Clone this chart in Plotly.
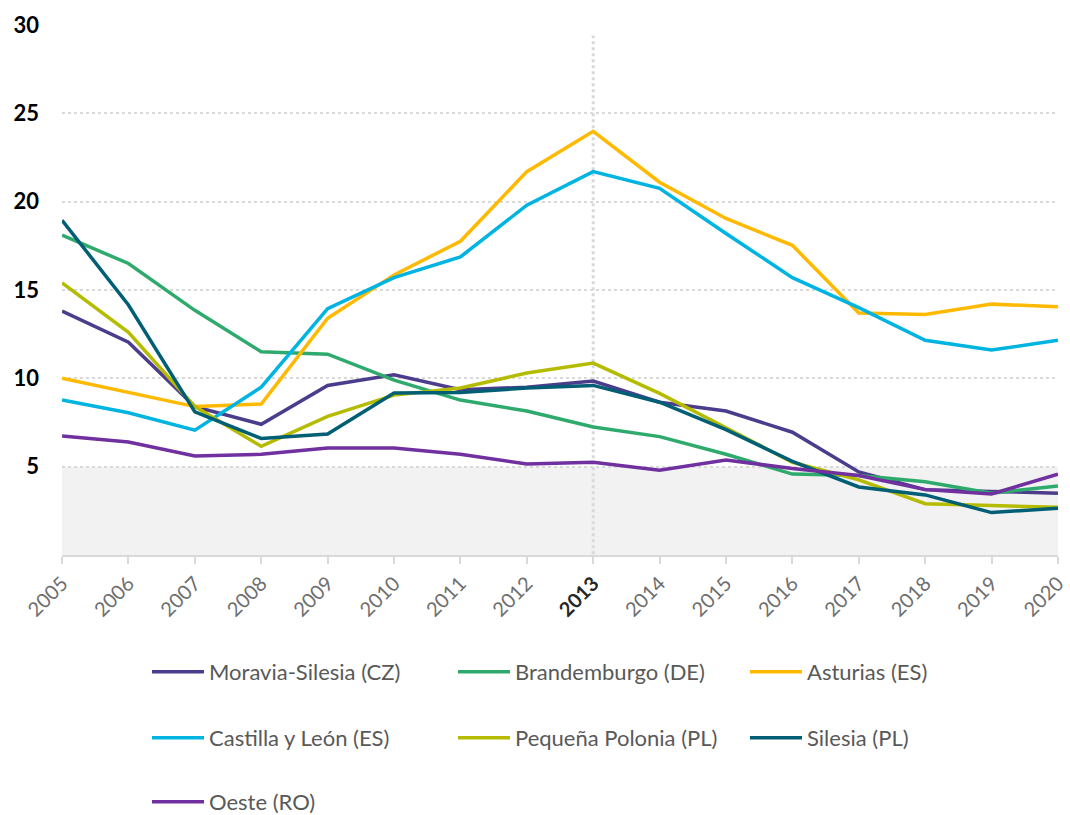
import plotly.graph_objects as go

years = list(range(2005, 2021))

series_names = [
    "Moravia-Silesia (CZ)", "Brandemburgo (DE)", "Asturias (ES)",
    "Castilla y León (ES)", "Pequeña Polonia (PL)", "Silesia (PL)", "Oeste (RO)",
]

moravia_silesia = [13.8, 12.05, 8.4, 7.4, 9.6, 10.2, 9.35, 9.5, 9.85, 8.65, 8.15, 6.95, 4.7, 3.7, 3.6, 3.5]
brandemburgo = [18.1, 16.5, 13.85, 11.5, 11.37, 9.9, 8.77, 8.15, 7.25, 6.7, 5.7, 4.58, 4.5, 4.15, 3.5, 3.9]
asturias = [10.0, 9.2, 8.4, 8.55, 13.4, 15.85, 17.76, 21.7, 23.98, 21.1, 19.05, 17.53, 13.7, 13.62, 14.2, 14.05]
castilla_leon = [8.77, 8.05, 7.07, 9.5, 13.95, 15.7, 16.87, 19.8, 21.7, 20.75, 18.2, 15.7, 14.0, 12.15, 11.6, 12.15]
pequena_polonia = [15.4, 12.6, 8.4, 6.15, 7.85, 9.05, 9.45, 10.3, 10.86, 9.15, 7.2, 5.25, 4.25, 2.9, 2.8, 2.7]
silesia = [18.95, 14.15, 8.1, 6.6, 6.85, 9.17, 9.2, 9.45, 9.6, 8.65, 7.1, 5.3, 3.85, 3.4, 2.4, 2.65]
oeste = [6.73, 6.4, 5.6, 5.7, 6.05, 6.05, 5.7, 5.15, 5.25, 4.8, 5.37, 4.9, 4.5, 3.7, 3.45, 4.58]

series_values = [moravia_silesia, brandemburgo, asturias, castilla_leon, pequena_polonia, silesia, oeste]
colors = ["#4B3D8C", "#2EAA6C", "#FFB900", "#00B4E2", "#B5BC00", "#005E75", "#7030A0"]

y_ticks = [5, 10, 15, 20, 25, 30]
highlight_year = 2013
threshold = 5

fig = go.Figure()

W, H = 1070, 815
ml, mr, mt, mb = 62, 12, 25, 260
pw, ph = W - ml - mr, H - mt - mb
col_px = [147, 453, 745]
row_px = [672, 738, 802]
legend_layout = {}
for i, (name, vals, col) in enumerate(zip(series_names, series_values, colors)):
    lname = "legend" if i == 0 else f"legend{i+1}"
    fig.add_trace(go.Scatter(
        x=years, y=vals, mode="lines", name=name,
        line=dict(color=col, width=3.5),
        legend=lname,
    ))
    cx = col_px[i % 3]
    ry = row_px[i // 3]
    legend_layout[lname] = dict(
        x=(cx - ml) / pw, y=(H - mb - ry) / ph, xanchor="left", yanchor="middle",
        font=dict(family="Lato, Open Sans, sans-serif", size=22, color="#595959"),
        bgcolor="rgba(0,0,0,0)", borderwidth=0, itemwidth=52,
    )

ticktext = []
for y in years:
    if y == highlight_year:
        ticktext.append(f"<b><span style='color:#262626'>{y}</span></b>")
    else:
        ticktext.append(str(y))

fig.update_layout(
    width=W, height=H,
    margin=dict(l=ml, r=mr, t=mt, b=mb, autoexpand=False),
    plot_bgcolor="white", paper_bgcolor="white",
    font=dict(family="Lato, Open Sans, sans-serif"),
    xaxis=dict(
        range=[2004.999, 2020.001], tickvals=years, ticktext=ticktext, tickangle=-45,
        tickfont=dict(size=20, color="#6E6E6E"), ticklabeloverflow="allow",
        showgrid=False, showline=True, linecolor="#D9D9D9", linewidth=2,
        ticks="outside", ticklen=7, tickcolor="#D9D9D9", tickwidth=2,
        zeroline=False, automargin=False,
    ),
    yaxis=dict(
        range=[0, 30], tickvals=y_ticks, ticktext=[f"<b>{v}</b>" for v in y_ticks],
        tickfont=dict(size=22, color="#000000"),
        showgrid=True, gridcolor="#D9D9D9", gridwidth=1.5, griddash="dot",
        zeroline=False, showline=False, ticklabelstandoff=22, automargin=False,
    ),
    showlegend=True,
    **legend_layout,
)

fig.add_shape(type="rect", xref="x", yref="y", x0=2005, x1=2020, y0=0, y1=threshold,
              fillcolor="#F2F2F2", line=dict(width=0), layer="below")
fig.add_shape(type="line", xref="x", yref="y", x0=highlight_year, x1=highlight_year,
              y0=-0.3, y1=29.4, line=dict(color="#D9D9D9", width=3, dash="dot"), layer="below")

fig.write_html("out.html", config={"displayModeBar": False},
               post_script="document.body.style.margin='0';")
